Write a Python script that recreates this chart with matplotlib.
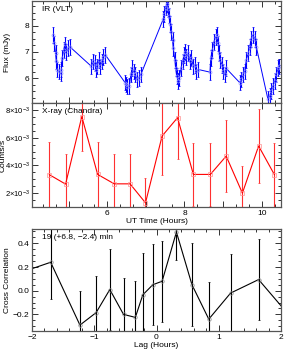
import numpy as np
import matplotlib
matplotlib.use('Agg')
from matplotlib import pyplot as plt
from matplotlib.ticker import MultipleLocator, FixedLocator

plt.rcParams['font.family'] = ['Liberation Sans', 'DejaVu Sans']
plt.rcParams['font.size'] = 6
plt.rcParams['mathtext.fontset'] = 'custom'
plt.rcParams['mathtext.rm'] = 'Liberation Sans'
plt.rcParams['mathtext.it'] = 'Liberation Sans:italic'
plt.rcParams['mathtext.bf'] = 'Liberation Sans:bold'

# IR (VLT) light curve
ir_t = [4.60, 4.63, 4.66, 4.68, 4.70, 4.74, 4.79, 4.81, 4.83, 4.87, 4.90, 4.94, 4.99, 5.03,
        5.59, 5.63, 5.67, 5.71, 5.74, 5.78, 5.82, 5.86, 5.90, 5.95,
        6.46, 6.49, 6.52, 6.57, 6.61, 6.65, 6.68, 6.72, 6.77, 6.81, 6.87,
        7.45, 7.48, 7.51, 7.54, 7.56, 7.59, 7.63, 7.65, 7.69, 7.71, 7.75, 7.77, 7.80,
        7.84, 7.86, 7.91, 7.95, 7.99, 8.02, 8.05, 8.10, 8.14, 8.18, 8.23, 8.27, 8.31, 8.36,
        8.66, 8.68, 8.72, 8.76, 8.81, 8.84, 8.87, 8.90, 8.93, 8.97, 9.00, 9.04, 9.07,
        9.43, 9.47, 9.52, 9.56, 9.60, 9.65, 9.69, 9.73, 9.77, 9.82, 9.86,
        10.16, 10.21, 10.25, 10.29, 10.34, 10.38, 10.42, 10.46]
ir_flux = [7.66, 7.33, 6.95, 6.64, 6.33, 6.26, 6.18, 6.33, 6.76, 7.07, 7.29, 7.01, 7.14, 7.20,
           6.45, 6.64, 6.57, 6.33, 6.45, 6.70, 6.45, 6.64, 6.82, 6.89,
           5.83, 5.76, 5.68, 5.70, 6.14, 6.39, 6.26, 6.14, 5.95, 6.01, 6.14,
           8.26, 8.45, 8.70, 8.82, 8.64, 8.39, 8.07, 7.76, 7.45, 7.14, 6.70, 6.39, 6.07,
           5.89, 6.00, 6.39, 6.64, 6.89, 7.01, 6.82, 6.95, 6.64, 6.76, 6.45, 6.51, 6.26, 6.33,
           6.23, 6.76, 7.07, 7.39, 7.57, 7.64, 7.33, 6.95, 6.70, 6.51, 6.26, 6.14, 6.39,
           5.83, 5.95, 6.14, 6.26, 6.70, 6.95, 7.20, 7.51, 7.64, 7.51, 7.20,
           5.20, 5.33, 5.51, 5.70, 5.89, 6.14, 6.39, 6.45]
ir_err = [0.30] * len(ir_t)

# X-ray (Chandra) light curve
xr_t = [4.50, 4.92, 5.34, 5.75, 6.18, 6.59, 6.99, 7.42, 7.82, 8.23, 8.67, 9.08, 9.50, 9.92, 10.33]
xr_rate = [3.33e-3, 2.65e-3, 7.52e-3, 3.35e-3, 2.67e-3, 2.67e-3, 1.30e-3, 6.12e-3, 7.44e-3,
           3.35e-3, 3.35e-3, 4.67e-3, 2.00e-3, 5.40e-3, 3.33e-3]
xr_err = [2.33e-3, 2.20e-3, 2.50e-3, 2.33e-3, 2.17e-3, 2.17e-3, 1.78e-3, 2.84e-3, 3.00e-3,
          2.30e-3, 2.30e-3, 2.60e-3, 1.95e-3, 2.70e-3, 2.30e-3]
xr_ticks = [2e-3, 4e-3, 6e-3, 8e-3]
xr_ticklabels = [r'$2{\times}10^{-3}$', r'$4{\times}10^{-3}$',
                 r'$6{\times}10^{-3}$', r'$8{\times}10^{-3}$']

# cross correlation
lag = [-2.20, -1.70, -1.23, -0.97, -0.75, -0.53, -0.34, -0.22, -0.06, 0.09, 0.32, 0.57,
       0.84, 1.19, 1.64, 2.20]
cc = [0.15, 0.24, -0.29, -0.185, 0.01, -0.20, -0.225, -0.035, 0.05, 0.08, 0.495, 0.05,
      -0.24, -0.02, 0.094, -0.25]
cc_err = [0.31, 0.31, 0.29, 0.31, 0.34, 0.31, 0.31, 0.35, 0.34, 0.34, 0.24, 0.35,
          0.31, 0.33, 0.34, 0.31]

W, H = 284, 352
fig = plt.figure(figsize=(W / 100, H / 100), dpi=100)
left, right = 32 / W, 281 / W
ax1 = fig.add_axes([left, 1 - 103 / H, right - left, 102 / H])
ax2 = fig.add_axes([left, 1 - 207 / H, right - left, 104 / H])
ax3 = fig.add_axes([left, 1 - 331 / H, right - left, 102.5 / H])

for ax in (ax1, ax2, ax3):
    ax.tick_params(which='both', direction='in', top=True, right=True, pad=2,
                   labelsize=6, width=0.7, color='#333333')
    ax.tick_params(which='major', length=4)
    ax.tick_params(which='minor', length=2)
    for s in ax.spines.values():
        s.set_linewidth(0.9)
        s.set_color('#555555')

# top panel
ax1.errorbar(ir_t, ir_flux, yerr=ir_err, color='#0000ff', lw=0.7, elinewidth=0.8,
             capsize=1.0, capthick=0.7, marker='o', ms=2.2, mfc='none', mec='#9999ff', mew=0.5)
ax1.set_xlim(4.05, 10.5)
ax1.set_ylim(5.05, 8.95)
ax1.xaxis.set_major_locator(MultipleLocator(1))
ax1.xaxis.set_minor_locator(MultipleLocator(1 / 3))
ax1.yaxis.set_major_locator(MultipleLocator(1))
ax1.yaxis.set_minor_locator(MultipleLocator(0.25))
ax1.set_xticklabels([])
ax1.set_ylabel('Flux (mJy)')
ax1.yaxis.set_label_coords(-0.085, 0.5)
ax1.text(0.04, 0.95, 'IR (VLT)', transform=ax1.transAxes, ha='left', va='top')

# middle panel
ax2.errorbar(xr_t, xr_rate, yerr=xr_err, color='#ff0000', lw=0.8, elinewidth=0.8,
             ecolor='#ff3030', capsize=1.0, capthick=0.7, marker='s', ms=2.5, mfc='none',
             mec='#ff9090', mew=0.5)
ax2.set_xlim(4.05, 10.5)
ax2.set_ylim(1.0e-3, 8.5e-3)
ax2.xaxis.set_major_locator(FixedLocator([5, 6, 7, 8, 9, 10]))
ax2.xaxis.set_minor_locator(MultipleLocator(1 / 3))
ax2.set_xticklabels(['', '6', '', '8', '', '10'])
ax2.yaxis.set_major_locator(FixedLocator(xr_ticks))
ax2.yaxis.set_minor_locator(MultipleLocator(0.5e-3))
ax2.set_yticklabels(xr_ticklabels, fontsize=5.5)
ax2.tick_params(axis='y', pad=1)
ax2.set_ylabel('Counts/s')
ax2.yaxis.set_label_coords(-0.1, 0.5)
ax2.set_xlabel('UT Time (Hours)', labelpad=1)
ax2.text(0.04, 0.95, 'X-ray (Chandra)', transform=ax2.transAxes, ha='left', va='top')

# bottom panel
ax3.errorbar(lag, cc, yerr=cc_err, color='black', lw=0.8, elinewidth=0.8,
             capsize=1.0, capthick=0.7, marker='o', ms=2.5, mfc='none', mec='#888888', mew=0.5)
ax3.set_xlim(-2, 2)
ax3.set_ylim(-0.34, 0.525)
ax3.xaxis.set_major_locator(MultipleLocator(1))
ax3.xaxis.set_minor_locator(MultipleLocator(0.2))
ax3.yaxis.set_major_locator(MultipleLocator(0.2))
ax3.yaxis.set_minor_locator(MultipleLocator(0.05))
ax3.set_ylabel('Cross Correlation')
ax3.yaxis.set_label_coords(-0.085, 0.5)
ax3.set_xlabel('Lag (Hours)', labelpad=1)
ax3.text(0.04, 0.95, '19 (+6.8, \u22122.4) min', transform=ax3.transAxes, ha='left', va='top')

fig.savefig('out.png', dpi=100)
